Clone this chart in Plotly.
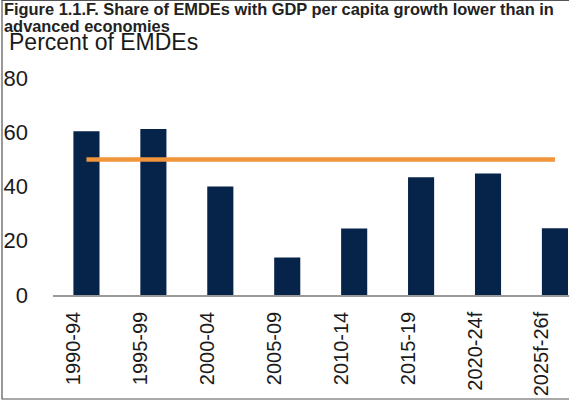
import plotly.graph_objects as go

categories = ["1990-94", "1995-99", "2000-04", "2005-09", "2010-14", "2015-19", "2020-24f", "2025f-26f"]
share_emdes = [60.4, 61.2, 40.0, 13.8, 24.5, 43.4, 44.8, 24.6]
benchmark = [50, 50, 50, 50, 50, 50, 50, 50]
y_ticks = [0, 20, 40, 60, 80]

W, H = 569, 403
L, R, T, B = 53, 0, 78, 108
PW, PH = W - L - R, H - T - B

def px(x):
    return (x - L) / PW

def py(y):
    return (H - B - y) / PH

FONT = "Liberation Sans, Arial, sans-serif"

fig = go.Figure()
fig.add_trace(go.Bar(x=categories, y=share_emdes, marker_color="#06234A",
                     marker_line_width=0, width=0.39, showlegend=False))
fig.add_trace(go.Scatter(x=categories, y=benchmark, mode="lines",
                         line=dict(color="#F0953A", width=4.5), showlegend=False))

fig.update_layout(
    width=W, height=H,
    margin=dict(l=L, r=R, t=T, b=B, pad=0, autoexpand=False),
    paper_bgcolor="white", plot_bgcolor="white",
    font=dict(family=FONT, color="#1a1a1a"),
    xaxis=dict(
        type="category", range=[-0.5, 7.21], automargin=False,
        tickangle=-90, tickfont=dict(size=20, color="#1a1a1a"),
        showline=True, linecolor="#9a9a9a", linewidth=1.5,
        showgrid=False, ticks="", ticklabelstandoff=7, ticklabelshift=-13,
    ),
    yaxis=dict(
        range=[0, 80], tickvals=y_ticks, tickfont=dict(size=22, color="#1a1a1a"),
        showgrid=False, zeroline=False, showline=False, ticks="", automargin=False,
        ticklabelstandoff=24,
    ),
    shapes=[
        dict(type="rect", xref="paper", yref="paper", x0=px(2), x1=px(575), y0=py(0.5), y1=py(399),
             line=dict(color="#555555", width=1.2), fillcolor="rgba(0,0,0,0)"),
    ],
    annotations=[
        dict(text="<b>Figure 1.1.F. Share of EMDEs with GDP per capita growth lower than in</b>",
             xref="paper", yref="paper", x=px(2), y=py(9), xanchor="left", yanchor="middle",
             align="left", showarrow=False, font=dict(size=16.4, color="#222222", family=FONT)),
        dict(text="<b>advanced economies</b>",
             xref="paper", yref="paper", x=px(2), y=py(26), xanchor="left", yanchor="middle",
             align="left", showarrow=False, font=dict(size=16.4, color="#222222", family=FONT)),
        dict(text="Percent of EMDEs", xref="paper", yref="paper", x=px(7), y=py(42),
             xanchor="left", yanchor="middle", showarrow=False,
             font=dict(size=23, color="#1a1a1a", family=FONT)),
    ],
)

fig.write_html("out.html", config={"displayModeBar": False},
               post_script="document.body.style.margin='0';document.body.style.overflow='hidden';")
